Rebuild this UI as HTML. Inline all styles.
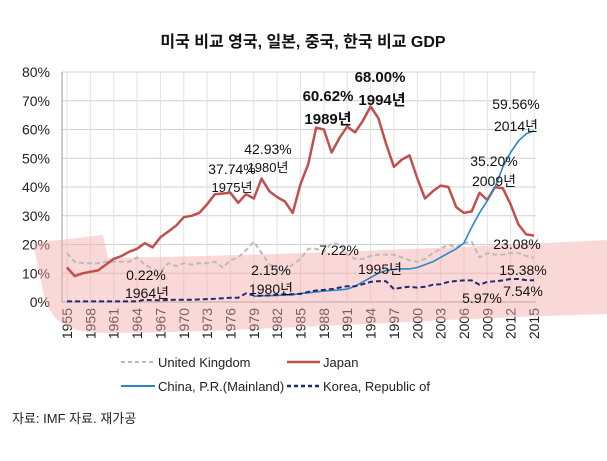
<!DOCTYPE html>
<html><head><meta charset="utf-8"><style>
body{margin:0;background:#fff;width:607px;height:461px;overflow:hidden;font-family:"Liberation Sans","Noto Sans CJK KR",sans-serif;}
svg{display:block}
</style></head><body>
<svg id="chart" width="607" height="461" xmlns="http://www.w3.org/2000/svg" font-family="Liberation Sans, Noto Sans CJK KR, sans-serif">
<text x="303" y="47" text-anchor="middle" font-size="16" font-weight="bold" fill="#111">미국 비교 영국, 일본, 중국, 한국 비교 GDP</text>
<g id="grid"></g>
<g id="yaxis"></g>
<g id="xaxis"></g>
<path d="M33,243 L103,235 L108,258 C250,256 450,248 607,240 L607,314 C450,318 250,332 110,333 C70,333 55,325 45,300 Z" fill="#f7a8a8" fill-opacity="0.45"/>
<g id="series"></g>
<g id="annot" font-size="14" fill="#111">
<text x="232" y="174" text-anchor="middle">37.74%</text>
<text x="232" y="192" text-anchor="middle" font-size="13">1975년</text>
<text x="268" y="154" text-anchor="middle">42.93%</text>
<text x="268" y="172" text-anchor="middle" font-size="13">1980년</text>
<text x="328" y="101" text-anchor="middle" font-weight="bold" font-size="15">60.62%</text>
<text x="328" y="124" text-anchor="middle" font-weight="bold" font-size="15">1989년</text>
<text x="380" y="82" text-anchor="middle" font-weight="bold" font-size="15">68.00%</text>
<text x="382" y="105" text-anchor="middle" font-weight="bold" font-size="15">1994년</text>
<text x="516" y="109" text-anchor="middle">59.56%</text>
<text x="516" y="131" text-anchor="middle">2014년</text>
<text x="494" y="166" text-anchor="middle">35.20%</text>
<text x="494" y="186" text-anchor="middle">2009년</text>
<text x="339" y="255" text-anchor="middle">7.22%</text>
<text x="380" y="274" text-anchor="middle">1995년</text>
<text x="517" y="249" text-anchor="middle">23.08%</text>
<text x="523" y="275" text-anchor="middle">15.38%</text>
<text x="523" y="296" text-anchor="middle">7.54%</text>
<text x="482" y="303" text-anchor="middle">5.97%</text>
<text x="146" y="280" text-anchor="middle">0.22%</text>
<text x="147" y="298" text-anchor="middle">1964년</text>
<text x="271" y="275" text-anchor="middle">2.15%</text>
<text x="271" y="294" text-anchor="middle">1980년</text>
</g>
<g font-size="13" fill="#222">
<g><line x1="121" y1="362" x2="155" y2="362" stroke="#bbb" stroke-width="2" stroke-dasharray="4,3"/><text x="158" y="367">United Kingdom</text></g>
<g><line x1="287" y1="362" x2="320" y2="362" stroke="#c0504d" stroke-width="2.5"/><text x="323" y="367">Japan</text></g>
<g><line x1="121" y1="386" x2="155" y2="386" stroke="#2e86c8" stroke-width="2"/><text x="158" y="391">China, P.R.(Mainland)</text></g>
<g><line x1="287" y1="386" x2="320" y2="386" stroke="#1f2a6b" stroke-width="2.5" stroke-dasharray="4,3"/><text x="323" y="391">Korea, Republic of</text></g>
</g>
<text x="12" y="423" font-size="13" fill="#222">자료: IMF 자료. 재가공</text>
</svg>
<script>
const years=[];for(let y=1955;y<=2015;y++)years.push(y);
const yTicks=[0,10,20,30,40,50,60,70,80];
const japan=[12,9,10,10.5,11,13,15,16,17.5,18.5,20.5,19,22.5,24.5,26.5,29.5,30,31,34,37.5,37.74,38,34.5,37.5,36,42.93,38.5,36.5,35,31,41,48,60.62,60,52,57,61,59,63,68,64,55,47,49.5,51,43,36,38.5,40.5,40,33,31,31.5,38,35.5,40,39.5,34,27,23.5,23.08];
const uk=[17,14,13.5,13.5,13.5,14,14,14,14,15.5,13,11.5,10.5,13.5,12.5,13.5,13,13.5,13.5,14,12,14.5,15.5,18,21,17,13,12,11,13,15,18.5,18.5,17.5,20.5,20,16.5,15,15,16,16.5,16.5,16.5,15.5,14.5,14,15,17,18.5,20,19,20.5,21,15.5,17,16.5,16.5,17,17,16,15.38];
const chinaYears=[];for(let y=1979;y<=2015;y++)chinaYears.push(y);
const china=[2,2.2,2.2,2.3,2.4,2.5,3,3.2,3.5,3.8,4,4.2,4.5,5.5,7,8.5,10,11,11.3,11.5,11.5,12,13,14,15.5,17,18.5,20.5,26,31,35.2,40,47,52,56,58.5,59.56];
const korea=[0.2,0.2,0.2,0.2,0.2,0.2,0.2,0.2,0.2,0.22,0.8,0.6,0.6,0.7,0.8,0.8,0.8,0.9,1,1.1,1.3,1.5,1.5,3,2.3,2.15,2.3,2.5,2.7,2.7,2.8,3.5,4,4.2,4.5,5,5.5,5.5,6.2,7,7.22,7.2,4.5,5,5.3,5,5.3,6,6.2,7,7.3,7.5,7.5,5.97,7,7.2,7.5,8,8,7.6,7.54];
const X0=67,X1=534,Y0=302,Y1=72;
const x=y=>X0+(y-1955)*(X1-X0)/60;
const yS=v=>Y0-v*(Y0-Y1)/80;
const NS='http://www.w3.org/2000/svg';
function mk(tag,attrs,parent){const e=document.createElementNS(NS,tag);for(const k in attrs)e.setAttribute(k,attrs[k]);parent.appendChild(e);return e;}
const grid=document.getElementById('grid'),ya=document.getElementById('yaxis'),xa=document.getElementById('xaxis'),ser=document.getElementById('series');
yTicks.forEach(t=>{
  const l=mk('line',{x1:62,x2:X1+2,y1:yS(t),y2:yS(t),stroke:t===0?'#999':'#d0d0d0','stroke-width':1},grid);
  
  
  const tx=mk('text',{x:50,y:yS(t)+5,'text-anchor':'end','font-size':14,fill:'#222'},ya);
  tx.textContent=t+'%';
  
  
});
mk('line',{x1:62,x2:62,y1:Y1,y2:Y0,stroke:'#999'},grid);
years.filter(y=>(y-1955)%3===0).forEach(y=>{
  const l=mk('line',{x1:x(y),x2:x(y),y1:Y1,y2:Y0,stroke:'#e2e2e2'},grid);
  
  
  const tx=mk('text',{transform:`translate(${x(y)+5},${Y0+6}) rotate(-90)`,'text-anchor':'end','font-size':14,fill:'#222'},xa);
  tx.textContent=y;
  
  
});
function line(xs,vals,style,name){
  const d=vals.map((v,i)=>(i?'L':'M')+x(xs[i]).toFixed(1)+','+yS(v).toFixed(1)).join(' ');
  const p=mk('path',Object.assign({d:d,fill:'none','stroke-linejoin':'round'},style),ser);
  
  
}
line(years,uk,{stroke:'#bbb','stroke-width':2,'stroke-dasharray':'5,3'},'uk-line');
line(years,japan,{stroke:'#c0504d','stroke-width':2.5},'japan-line');
line(chinaYears,china,{stroke:'#2e86c8','stroke-width':1.6},'china-line');
line(years,korea,{stroke:'#1f2a6b','stroke-width':2,'stroke-dasharray':'5,3'},'korea-line');
</script>
</body></html>
